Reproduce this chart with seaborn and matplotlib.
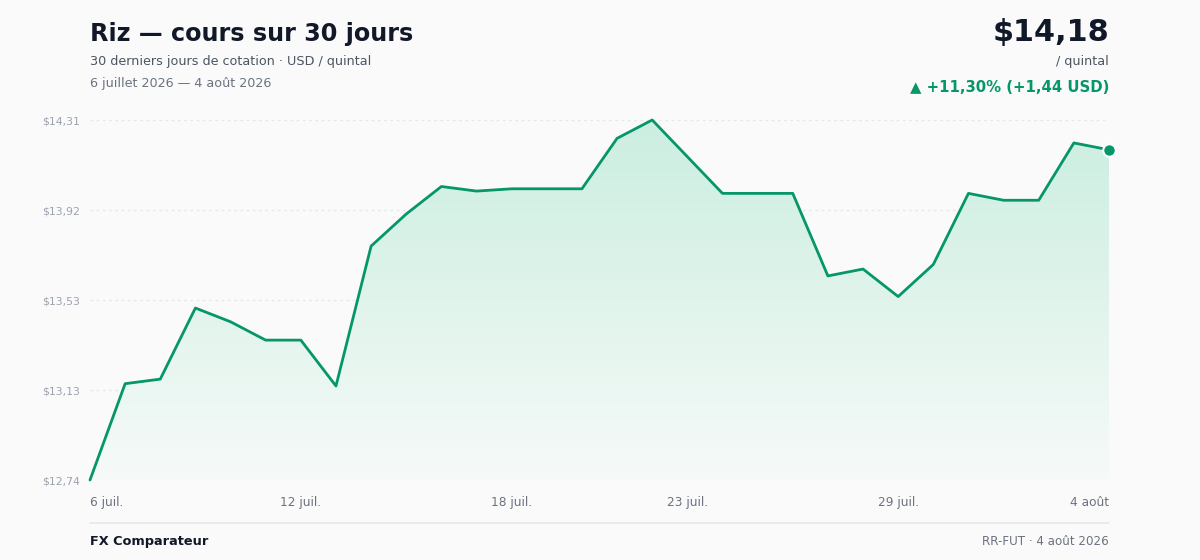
import matplotlib
matplotlib.use("Agg")
import matplotlib.pyplot as plt
import matplotlib.dates as mdates
from matplotlib.colors import LinearSegmentedColormap
from matplotlib.lines import Line2D
import numpy as np
import pandas as pd
import seaborn as sns


# Cours du riz, 30 jours (USD / quintal)
dates = pd.date_range("2026-07-06", "2026-08-04", freq="D")
prix = [12.74, 13.16, 13.18, 13.49, 13.43, 13.35, 13.35, 13.15, 13.76, 13.90,
        14.02, 14.00, 14.01, 14.01, 14.01, 14.23, 14.31, 14.15, 13.99, 13.99,
        13.99, 13.63, 13.66, 13.54, 13.68, 13.99, 13.96, 13.96, 14.21, 14.18]

x_ticks = ["2026-07-06", "2026-07-12", "2026-07-18", "2026-07-23", "2026-07-29", "2026-08-04"]
x_labels = ["6 juil.", "12 juil.", "18 juil.", "23 juil.", "29 juil.", "4 août"]
y_labels = ["$12,74", "$13,13", "$13,53", "$13,92", "$14,31"]

VERT = "#059669"
FOND = "#fafafa"
W, H = 1200, 560


def fy(px):
    # position verticale en pixels depuis le haut -> fraction de figure
    return 1 - px / H


def plot():
    sns.set_theme(style="white")
    plt.rcParams['font.family'] = ['DejaVu Sans']

    df = pd.DataFrame({"date": dates, "prix": prix})
    ymin, ymax = min(prix), max(prix)

    fig = plt.figure(figsize=(W / 100, H / 100), dpi=100, facecolor=FOND)
    ax = fig.add_axes([90 / W, 80 / H, 1019 / W, 360 / H])
    ax.set_facecolor(FOND)

    # remplissage en dégradé sous la courbe
    fill = ax.fill_between(df["date"], df["prix"], ymin, facecolor="none", edgecolor="none")
    cmap = LinearSegmentedColormap.from_list("grad", ["#f6faf8", "#cbeee0"])
    grad = np.linspace(0, 1, 256).reshape(-1, 1)
    xn = mdates.date2num(dates)
    im = ax.imshow(grad, extent=[xn[0], xn[-1], ymin, ymax], origin="lower",
                   aspect="auto", cmap=cmap, zorder=1)
    im.set_clip_path(fill.get_paths()[0], transform=ax.transData)

    sns.lineplot(data=df, x="date", y="prix", ax=ax, color=VERT, linewidth=2, zorder=3)
    for line in ax.lines:
        line.set_clip_on(False)
    ax.plot(dates[-1], prix[-1], "o", ms=9, mfc=VERT, mec="white", mew=1.5,
            clip_on=False, zorder=5)

    ax.set_xlim(dates[0], dates[-1])
    ax.set_ylim(ymin, ymax)

    yt = np.linspace(ymin, ymax, len(y_labels))
    ax.set_yticks(yt)
    ax.set_yticklabels(y_labels, fontsize=7.8, color="#9ca3af")
    for v in yt:
        ax.axhline(v, color="#e3e6ea", lw=0.9, ls=(0, (2, 3)), zorder=0.5)

    ax.set_xticks(pd.to_datetime(x_ticks))
    ax.set_xticklabels(x_labels, fontsize=8.7, color="#6b7280")
    labels = ax.get_xticklabels()
    labels[0].set_ha("left")
    labels[-1].set_ha("right")

    ax.tick_params(axis="both", length=0)
    ax.tick_params(axis="y", pad=7)
    ax.tick_params(axis="x", pad=11.5)
    ax.set_xlabel("")
    ax.set_ylabel("")
    sns.despine(ax=ax, left=True, bottom=True)

    # en-tête
    x0, x1 = 90 / W, 1109 / W
    fig.text(x0, fy(41), "Riz — cours sur 30 jours", fontsize=17.2, fontweight="bold",
             color="#111827", va="baseline")
    fig.text(x0, fy(65), "30 derniers jours de cotation · USD / quintal", fontsize=9.2,
             color="#4b5563", va="baseline")
    fig.text(x0, fy(87), "6 juillet 2026 — 4 août 2026", fontsize=9.2,
             color="#6b7280", va="baseline")

    fig.text(x1, fy(41), "$14,18", fontsize=21.8, fontweight="bold", color="#111827",
             ha="right", va="baseline")
    fig.text(x1, fy(65), "/ quintal", fontsize=9.2, color="#4b5563", ha="right", va="baseline")
    fig.text(x1, fy(92), "▲ +11,30% (+1,44 USD)", fontsize=10.7, fontweight="bold",
             color=VERT, ha="right", va="baseline")

    # pied de page
    fig.add_artist(Line2D([x0, x1], [fy(523), fy(523)], color="#e5e7eb", lw=1.2))
    fig.text(x0, fy(545), "FX Comparateur", fontsize=9.3, fontweight="bold",
             color="#111827", va="baseline")
    fig.text(x1, fy(545), "RR-FUT · 4 août 2026", fontsize=8.6, color="#6b7280",
             ha="right", va="baseline")

    fig.savefig("out.png", dpi=100, facecolor=FOND)


plot()
